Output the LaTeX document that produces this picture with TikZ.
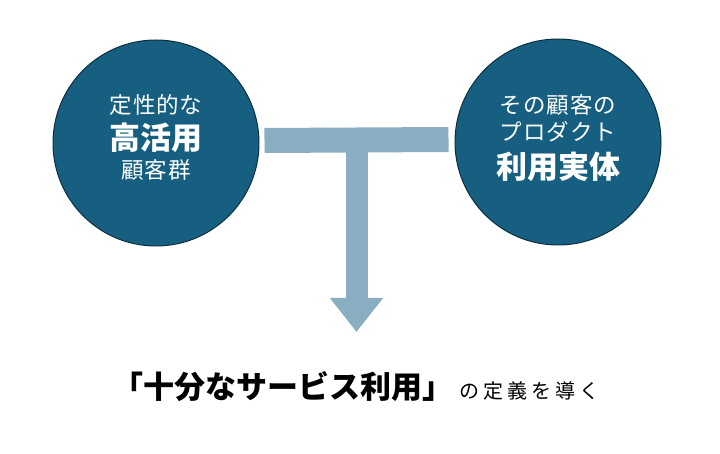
\documentclass[tikz,border=0pt]{standalone}
\usepackage{fontspec}
\setmainfont{Noto Sans CJK JP}
\usetikzlibrary{positioning, calc, arrows.meta}
\definecolor{circblue}{HTML}{165F80}
\definecolor{circedge}{HTML}{0E2F42}
\definecolor{barblue}{HTML}{8AAEC1}

\begin{document}
\begin{tikzpicture}[x=1pt, y=-1pt,
  bubble/.style={circle, minimum size=206pt, inner sep=0pt, fill=circblue, draw=circedge, line width=1pt},
  thin label/.style={text=white, inner sep=0pt, font=\fontsize{22.5}{26}\selectfont\addfontfeature{LetterSpace=4}},
  big label/.style={text=white, inner sep=0pt, font=\fontsize{31}{36}\selectfont\bfseries},
  bar/.style={barblue, line width=25pt},
  stem/.style={barblue, line width=22pt, -{Triangle[width=51pt, length=34pt]}}]

  \useasboundingbox (0,0) rectangle (720,454);

  % Circles
  \node[bubble] (high) at (156,143) {};
  \node[bubble] (use) at (558,142) {};

  % Left circle text
  \node[thin label] (high1) at ([yshift=38pt]high.center) {定性的な};
  \node[big label] (high2) at ([yshift=5pt]high.center) {高活用};
  \node[thin label] (high3) at ([yshift=-27pt]high.center) {顧客群};

  % Right circle text
  \node[thin label] (use1) at ([yshift=37pt]use.center) {その顧客の};
  \node[thin label] (use2) at ([yshift=10pt]use.center) {プロダクト};
  \node[big label] (use3) at ([yshift=-25pt]use.center) {利用実体};

  % Bottom text
  \node[inner sep=0pt, font=\fontsize{31}{36}\selectfont\bfseries] (goal) at (283,387) {「十分なサービス利用」};
  \node[inner sep=0pt, anchor=base west, font=\fontsize{20}{24}\selectfont\addfontfeature{LetterSpace=20}]
    (lead) at ([xshift=6pt]goal.base east) {の定義を導く};

  % T-shaped arrow
  \coordinate (barL) at ([xshift=5pt, yshift=2.5pt]high.east);
  \coordinate (barR) at ([xshift=-6pt, yshift=2.5pt]use.west);
  \coordinate (join) at ($(barL)!0.5!(barR)$);
  \coordinate (tip) at (join |- 0,332);
  \draw[bar] (barL) -- (barR);
  \draw[stem] (join) -- (tip);

\end{tikzpicture}
\end{document}
